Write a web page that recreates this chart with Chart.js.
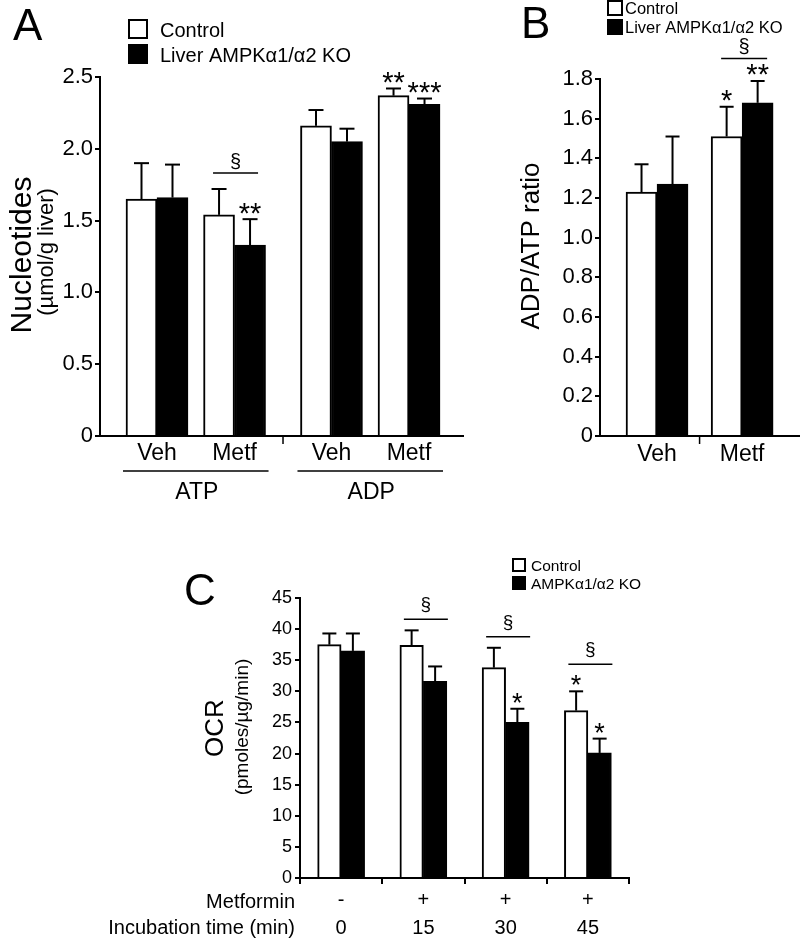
<!DOCTYPE html>
<html>
<head>
<meta charset="utf-8">
<script src="https://cdn.jsdelivr.net/npm/chart.js@4.4.1/dist/chart.umd.min.js"></script>
<style>
  body { margin: 0; background: #fff; }
  #fig { position: relative; width: 800px; height: 940px; overflow: hidden; background: #fff; }
  canvas { position: absolute; }
</style>
</head>
<body>
<div id="fig">
  <canvas id="chartA" width="480" height="500" style="left:0;top:0"></canvas>
  <canvas id="chartB" width="320" height="500" style="left:480px;top:0"></canvas>
  <canvas id="chartC" width="800" height="440" style="left:0;top:500px"></canvas>
</div>
<script>
/* ---- data ---- */
const seriesNames = ["Control", "Liver AMPKα1/α2 KO"];
const seriesNamesC = ["Control", "AMPKα1/α2 KO"];

// panel A : nucleotides
const catsA = ["Veh", "Metf", "Veh", "Metf"];
const nucleotideLabels = ["ATP", "ADP"];
const ctrlA = [1.65, 1.54, 2.16, 2.37];
const koA = [1.66, 1.33, 2.05, 2.31];
const ctrlErrA = [0.25, 0.18, 0.11, 0.05];
const koErrA = [0.23, 0.18, 0.09, 0.04];
const ctrlStarsA = ["", "", "", "**"];
const koStarsA = ["", "**", "", "***"];
const sectionA = ["", "§", "", ""];
const yTicksA = ["0", "0.5", "1.0", "1.5", "2.0", "2.5"];
const yTitleA = "Nucleotides";
const yUnitA = "(µmol/g liver)";

// panel B : ADP/ATP ratio
const catsB = ["Veh", "Metf"];
const ctrlB = [1.23, 1.51];
const koB = [1.27, 1.68];
const ctrlErrB = [0.14, 0.15];
const koErrB = [0.24, 0.11];
const ctrlStarsB = ["", "*"];
const koStarsB = ["", "**"];
const sectionB = ["", "§"];
const yTicksB = ["0", "0.2", "0.4", "0.6", "0.8", "1.0", "1.2", "1.4", "1.6", "1.8"];
const yTitleB = "ADP/ATP ratio";

// panel C : OCR
const metforminRow = ["-", "+", "+", "+"];
const timeRow = ["0", "15", "30", "45"];
const ctrlC = [37.5, 37.4, 33.8, 26.9];
const koC = [36.5, 31.6, 25.0, 20.1];
const ctrlErrC = [1.8, 2.4, 3.2, 3.1];
const koErrC = [2.8, 2.4, 2.2, 2.3];
const ctrlStarsC = ["", "", "", "*"];
const koStarsC = ["", "", "*", "*"];
const sectionC = ["", "§", "§", "§"];
const yTicksC = ["0", "5", "10", "15", "20", "25", "30", "35", "40", "45"];
const yTitleC = "OCR";
const yUnitC = "(pmoles/µg/min)";
const rowNamesC = ["Metformin", "Incubation time (min)"];

/* ---- helpers ---- */
const FONT = "'Liberation Sans', Arial, Helvetica, sans-serif";
Chart.defaults.font.family = FONT;
Chart.defaults.color = "#000";

function font(size) { return size + "px " + FONT; }

// text whose ink is vertically centred on cy
function inkText(ctx, text, x, cy, size, align) {
    ctx.font = font(size);
    ctx.textAlign = align || "center";
    ctx.textBaseline = "alphabetic";
    const m = ctx.measureText(text);
    ctx.fillText(text, x, cy + (m.actualBoundingBoxAscent - m.actualBoundingBoxDescent) / 2);
}

// rotated text, x is the baseline
function vText(ctx, text, x, cy, size) {
    ctx.save();
    ctx.translate(x, cy);
    ctx.rotate(-Math.PI / 2);
    ctx.font = font(size);
    ctx.textAlign = "center";
    ctx.textBaseline = "alphabetic";
    ctx.fillText(text, 0, 0);
    ctx.restore();
}

function line(ctx, x1, y1, x2, y2, w) {
    ctx.lineWidth = w || 2;
    ctx.beginPath();
    ctx.moveTo(x1, y1);
    ctx.lineTo(x2, y2);
    ctx.stroke();
}

function legendRow(ctx, x, y, size, fill, label, textX, fontSize) {
    ctx.fillStyle = fill;
    ctx.fillRect(x, y, size, size);
    ctx.strokeStyle = "#000";
    ctx.lineWidth = 2;
    ctx.strokeRect(x, y, size, size);
    ctx.fillStyle = "#000";
    inkText(ctx, label, textX, y + size / 2, fontSize, "left");
}

// error bars, stars and § brackets
function makeMarkers(cfg) {
    return {
        id: "markers",
        afterDatasetsDraw(chart) {
            const ctx = chart.ctx;
            const yScale = chart.scales.y;
            const tops = [];
            const centers = [];
            const n = chart.data.datasets.length;
            ctx.save();
            ctx.strokeStyle = "#000";
            ctx.fillStyle = "#000";
            chart.data.datasets.forEach((ds, di) => {
                const meta = chart.getDatasetMeta(di);
                meta.data.forEach((bar, i) => {
                    const v = meta.controller.getParsed(i).y;
                    const yTop = yScale.getPixelForValue(v + ds.errors[i]);
                    line(ctx, bar.x, bar.y, bar.x, yTop, 2);
                    line(ctx, bar.x - cfg.cap, yTop, bar.x + cfg.cap, yTop, 2);
                    let top = yTop;
                    const s = ds.stars[i];
                    if (s) {
                        ctx.font = font(cfg.starSize);
                        const m = ctx.measureText(s);
                        const cy = yTop - cfg.starGap;
                        inkText(ctx, s, bar.x, cy, cfg.starSize);
                        top = Math.min(top, cy - (m.actualBoundingBoxAscent + m.actualBoundingBoxDescent) / 2);
                    }
                    tops[i] = Math.min(tops[i] === undefined ? Infinity : tops[i], top);
                    centers[i] = (centers[i] || 0) + bar.x / n;
                });
            });
            cfg.sections.forEach((mark, i) => {
                if (!mark) return;
                const cx = centers[i] + cfg.bracketShift;
                const by = tops[i] - cfg.bracketGap;
                line(ctx, cx - cfg.bracketHalf, by, cx + cfg.bracketHalf, by, 1.5);
                inkText(ctx, mark, cx, by - cfg.sectGap, cfg.sectSize);
            });
            ctx.restore();
        }
    };
}

function figureText(draw) {
    return {
        id: "figureText",
        afterDraw(chart) {
            const ctx = chart.ctx;
            ctx.save();
            ctx.fillStyle = "#000";
            ctx.strokeStyle = "#000";
            draw(ctx, chart);
            ctx.restore();
        }
    };
}

function yAxis(max, step, labels, width, size, padding) {
    return {
        min: 0,
        max: max,
        afterFit: s => { s.width = width; },
        ticks: {
            stepSize: step,
            padding: padding,
            color: "#000",
            font: { size: size },
            callback: (v, i) => labels[i]
        },
        grid: { drawOnChartArea: false, drawTicks: true, tickLength: 5, color: "#000", lineWidth: 2 },
        border: { display: true, color: "#000", width: 2 }
    };
}

// linear x axis so the gap between groups can be wider than the rest
function slotAxis(min, max, cats, slot, padding) {
    return {
        type: "linear",
        min: min,
        max: max,
        offset: false,
        afterBuildTicks: s => { s.ticks = cats.map((c, i) => ({ value: slot(i) })); },
        afterFit: s => { s.height = 64; },
        grid: { display: false, drawTicks: false },
        border: { display: true, color: "#000", width: 2 },
        ticks: {
            autoSkip: false,
            maxRotation: 0,
            padding: padding,
            color: "#000",
            font: { size: 23 },
            callback: (v, i) => cats[i]
        }
    };
}

function barSet(values, errors, stars, fill, thickness, slot) {
    return {
        data: slot ? values.map((v, i) => ({ x: slot(i), y: v })) : values,
        errors: errors,
        stars: stars,
        backgroundColor: fill,
        borderColor: "#000",
        borderWidth: 2,
        barThickness: thickness
    };
}

const baseOptions = {
    responsive: false,
    animation: false,
    events: [],
    plugins: { legend: { display: false }, tooltip: { enabled: false } }
};

/* ---- panel A ---- */
const slotA = i => i + (i >= 2 ? 0.25 : 0);

new Chart(document.getElementById("chartA"), {
    type: "bar",
    data: {
        datasets: [
            barSet(ctrlA, ctrlErrA, ctrlStarsA, "#fff", 31, slotA),
            barSet(koA, koErrA, koStarsA, "#000", 31, slotA)
        ]
    },
    options: {
        ...baseOptions,
        layout: { padding: { top: 77, right: 17, left: 0, bottom: 0 } },
        scales: {
            x: slotAxis(-0.735, 3.946, catsA, slotA, 4),
            y: yAxis(2.5, 0.5, yTicksA, 100, 22, 2)
        }
    },
    plugins: [
        makeMarkers({
            cap: 7.5, starSize: 29, starGap: 11, sections: sectionA,
            bracketGap: 16, bracketHalf: 22.5, bracketShift: 1, sectGap: 12, sectSize: 20
        }),
        figureText((ctx, chart) => {
            const x = chart.scales.x;
            const area = chart.chartArea;
            ctx.font = font(44);
            ctx.textAlign = "left";
            ctx.textBaseline = "alphabetic";
            ctx.fillText("A", 13, 40);
            legendRow(ctx, 129, 20, 18, "#fff", seriesNames[0], 160, 20);
            legendRow(ctx, 129, 45, 18, "#000", seriesNames[1], 160, 20);
            vText(ctx, yTitleA, 31, 255, 30);
            vText(ctx, yUnitA, 53, 252, 22);
            const mid = x.getPixelForValue((slotA(1) + slotA(2)) / 2);
            line(ctx, mid, area.bottom, mid, area.bottom + 8, 1.5);
            nucleotideLabels.forEach((lab, g) => {
                const a = x.getPixelForValue(slotA(2 * g));
                const b = x.getPixelForValue(slotA(2 * g + 1));
                line(ctx, a - 34, 471, b + 34, 471, 1.5);
                inkText(ctx, lab, (a + b) / 2 + 1, 490, 23);
            });
        })
    ]
});

/* ---- panel B ---- */
const slotB = i => i;

new Chart(document.getElementById("chartB"), {
    type: "bar",
    data: {
        datasets: [
            barSet(ctrlB, ctrlErrB, ctrlStarsB, "#fff", 31, slotB),
            barSet(koB, koErrB, koStarsB, "#000", 31, slotB)
        ]
    },
    options: {
        ...baseOptions,
        layout: { padding: { top: 79, right: 0, left: 0, bottom: 0 } },
        scales: {
            x: slotAxis(-0.67, 1.68, catsB, slotB, 5),
            y: yAxis(1.8, 0.2, yTicksB, 120, 22, 2)
        }
    },
    plugins: [
        makeMarkers({
            cap: 7, starSize: 29, starGap: 11, sections: sectionB,
            bracketGap: 6, bracketHalf: 23, bracketShift: 2, sectGap: 12, sectSize: 20
        }),
        figureText((ctx, chart) => {
            const x = chart.scales.x;
            const area = chart.chartArea;
            ctx.font = font(44);
            ctx.textAlign = "left";
            ctx.textBaseline = "alphabetic";
            ctx.fillText("B", 41, 38);
            legendRow(ctx, 128, 1, 14, "#fff", seriesNames[0], 145, 16.5);
            legendRow(ctx, 128, 20, 14, "#000", seriesNames[1], 145, 16.5);
            vText(ctx, yTitleB, 59, 246, 26);
            const mid = x.getPixelForValue((slotB(0) + slotB(1)) / 2);
            line(ctx, mid, area.bottom, mid, area.bottom + 8, 1.5);
        })
    ]
});

/* ---- panel C ---- */
new Chart(document.getElementById("chartC"), {
    type: "bar",
    data: {
        labels: metforminRow.map((m, i) => [m, timeRow[i]]),
        datasets: [
            barSet(ctrlC, ctrlErrC, ctrlStarsC, "#fff", 23.5),
            barSet(koC, koErrC, koStarsC, "#000", 23.5)
        ]
    },
    options: {
        ...baseOptions,
        layout: { padding: { top: 98, right: 171, left: 0, bottom: 0 } },
        scales: {
            x: {
                afterFit: s => { s.height = 62; },
                grid: { display: true, drawOnChartArea: false, drawTicks: true, tickLength: 6, color: "#000", lineWidth: 2, offset: true },
                border: { display: true, color: "#000", width: 2 },
                ticks: {
                    autoSkip: false,
                    maxRotation: 0,
                    padding: 2,
                    color: "#000",
                    font: { size: 20, lineHeight: 1.4 }
                }
            },
            y: yAxis(45, 5, yTicksC, 300, 18, 3)
        }
    },
    plugins: [
        makeMarkers({
            cap: 7, starSize: 27, starGap: 11, sections: sectionC,
            bracketGap: 11, bracketHalf: 22, bracketShift: 2.5, sectGap: 14, sectSize: 19
        }),
        figureText((ctx) => {
            ctx.font = font(44);
            ctx.textAlign = "left";
            ctx.textBaseline = "alphabetic";
            ctx.fillText("C", 184, 105);
            legendRow(ctx, 513, 59, 12, "#fff", seriesNamesC[0], 531, 15.5);
            legendRow(ctx, 513, 77, 12, "#000", seriesNamesC[1], 531, 15.5);
            vText(ctx, yTitleC, 223, 228, 26);
            vText(ctx, yUnitC, 248, 227, 19);
            inkText(ctx, rowNamesC[0], 295, 400, 20, "right");
            inkText(ctx, rowNamesC[1], 295, 428, 20, "right");
        })
    ]
});
</script>
</body>
</html>
